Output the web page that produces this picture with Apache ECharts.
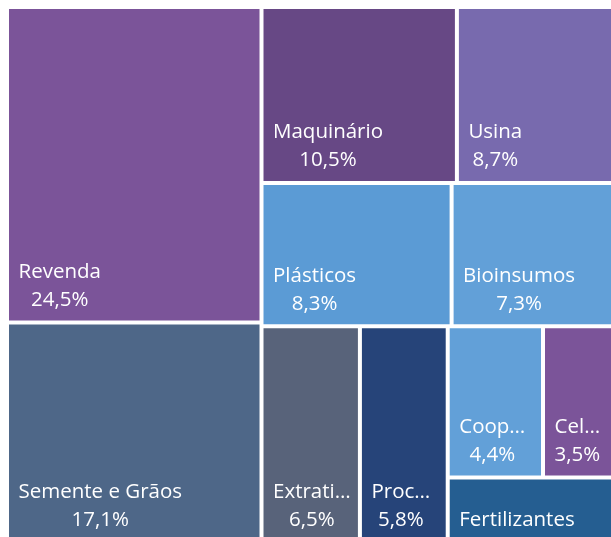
<!DOCTYPE html>
<html>
<head>
<meta charset="utf-8">
<script src="https://cdn.jsdelivr.net/npm/echarts@6/dist/echarts.min.js"></script>
<style>
  html, body { margin: 0; padding: 0; background: #fff; }
  #grafico { width: 611px; height: 537px; }
</style>
</head>
<body>
<div id="grafico"></div>
<script>
// categorias como aparecem no gráfico (os nomes cortados ficam como no original)
const categorias = ['Revenda', 'Semente e Grãos', 'Maquinário', 'Usina', 'Plásticos', 'Bioinsumos',
  'Extrati…', 'Proc…', 'Coop…', 'Cel…', 'Fertilizantes'];
const percentuais = [24.5, 17.1, 10.5, 8.7, 8.3, 7.3, 6.5, 5.8, 4.4, 3.5, 3.4];
const cores = ['#7B5499', '#4E6788', '#674885', '#786AAE', '#5B9BD5', '#62A0D8',
  '#58637A', '#264479', '#62A0D8', '#7B5499', '#255E91'];
// como os blocos se agrupam (índices das categorias), na ordem de disposição
const agrupamento = [[0, 1], [[2, 3], [4, 5], [6, 7, [[8, 9], 10]]]];

// monta a árvore do treemap a partir dos arrays acima
const montar = (no) => {
  if (typeof no === 'number') {
    return { name: categorias[no], value: percentuais[no], itemStyle: { color: cores[no] } };
  }
  const filhos = no.map(montar);
  return { name: '', value: filhos.reduce((s, f) => s + f.value, 0), children: filhos };
};

const myChart = echarts.init(document.getElementById('grafico'));
const option = {
  animation: false,
  series: [
    {
      type: 'treemap',
      left: 9,
      top: 9,
      width: 607.8,
      height: 531.7,
      sort: false,
      squareRatio: 0.5,
      roam: false,
      nodeClick: false,
      breadcrumb: { show: false },
      itemStyle: { gapWidth: 4, borderWidth: 0, borderColor: '#fff' },
      label: {
        show: true,
        position: 'insideBottomLeft',
        distance: 0,
        align: 'center',
        padding: [0, 0, 6.5, 0],
        overflow: 'none',
        color: '#fff',
        fontFamily: 'Open Sans',
        fontSize: 20.5,
        lineHeight: 28,
        formatter: (p) => p.name + '\n' + p.value.toFixed(1).replace('.', ',') + '%'
      },
      // percentual centralizado embaixo do nome, bloco encostado à esquerda
      labelLayout: (p) => ({ dx: 9.5 + p.labelRect.width / 2, align: 'center' }),
      data: montar(agrupamento).children
    }
  ]
};
myChart.setOption(option);
</script>
</body>
</html>
